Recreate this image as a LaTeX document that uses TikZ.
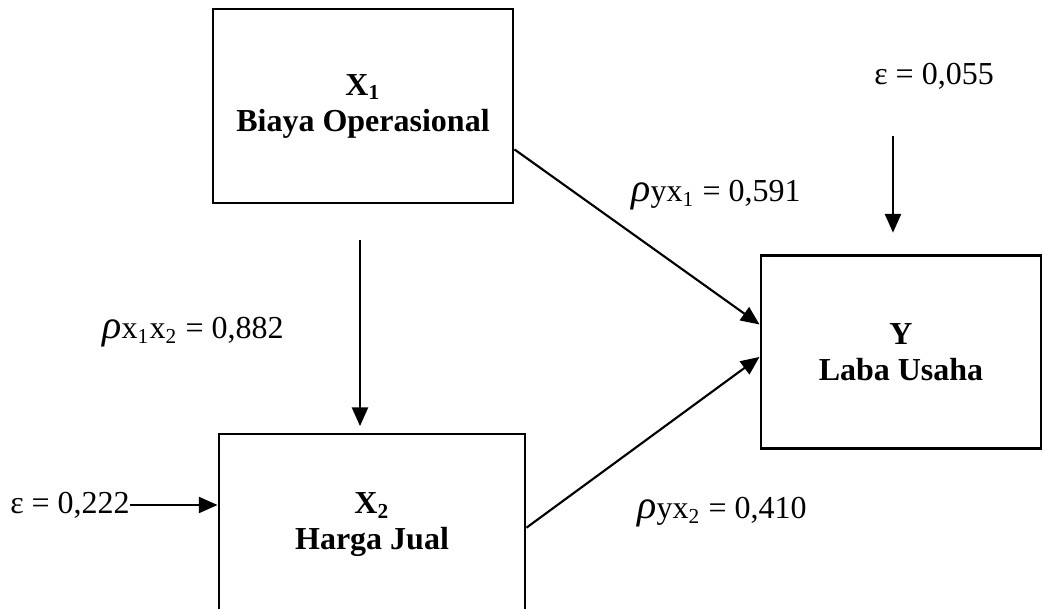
\documentclass[tikz,border=0pt]{standalone}
\usepackage{fontspec}
\setmainfont{Liberation Serif}
\usetikzlibrary{arrows.meta}
\newcommand{\rh}{{\fontsize{15}{15}\selectfont\itshape ρ}}
\begin{document}
\begin{tikzpicture}[x=0.375pt, y=-0.375pt,
    box/.style={draw, rectangle, line width=1.1pt, align=center, font=\fontsize{12}{13.5}\bfseries},
    arr/.style={-{Triangle[length=7pt,width=6pt]}, line width=0.8pt},
    coef/.style={font=\fontsize{12}{14}\selectfont}]
    \useasboundingbox (0,0) rectangle (1044,609);

    % Boxes
    \node[box, minimum width=112.5pt, minimum height=72.75pt] (biaya) at (363,106) {X\textsubscript{1}\\Biaya Operasional};
    \node[box, minimum width=114.75pt, minimum height=68.25pt] (harga) at (372,525) {X\textsubscript{2}\\Harga Jual};
    \node[box, minimum width=105pt, minimum height=72.4pt] (laba) at (901,352) {Y\\Laba Usaha};

    % Error terms
    \node[coef] (epsy) at (934,76) {ε = 0,055};
    \node[coef, inner sep=0pt] (epsx) at (70,505) {ε = 0,222};
    \coordinate (epsytail) at (893,136);
    \coordinate (corrtail) at (360,240);

    % Connections
    \draw[arr] (biaya.-16.3) -- (laba.169.5);
    \draw[arr] (harga.-1.9) -- (laba.-178.5);
    \draw[arr, shorten >=2.4pt] (corrtail) -- (corrtail |- harga.north);
    \draw[arr, shorten >=8pt] (epsytail) -- (epsytail |- laba.north);
    \draw[arr] (epsx.east) -- (epsx.east -| harga.west);

    % Coefficients
    \node[coef] (px1x2) at (193,332) {\rh x\textsubscript{1}x\textsubscript{2} = 0,882};
    \node[coef] (pyx1) at (716,195) {\rh yx\textsubscript{1} = 0,591};
    \node[coef] (pyx2) at (722,512) {\rh yx\textsubscript{2} = 0,410};
\end{tikzpicture}
\end{document}
